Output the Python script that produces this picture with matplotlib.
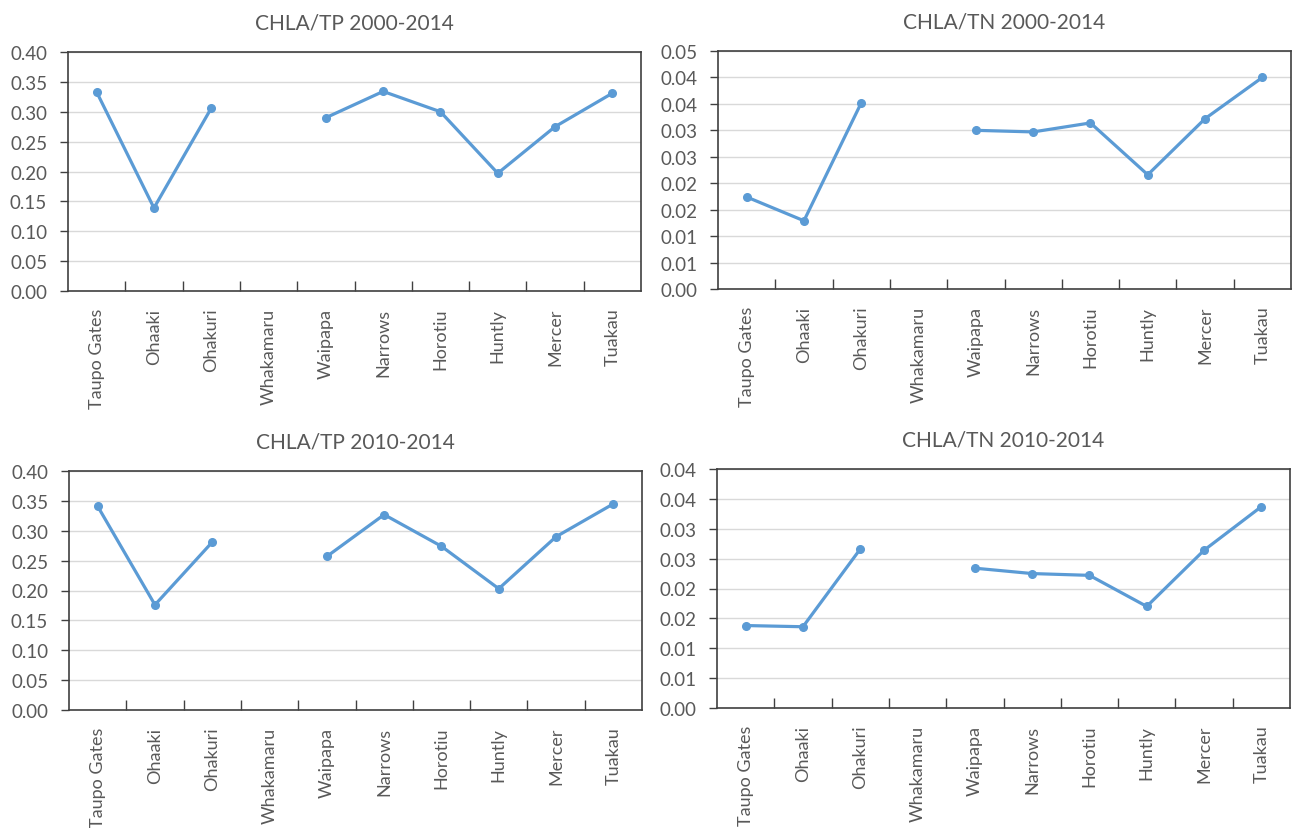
import matplotlib
matplotlib.use("Agg")
import matplotlib.pyplot as plt
import numpy as np
from decimal import Decimal, ROUND_HALF_UP
from matplotlib.ticker import FuncFormatter, FixedLocator

plt.rcParams['font.family'] = ['Lato', 'DejaVu Sans']

sites = ["Taupo Gates", "Ohaaki", "Ohakuri", "Whakamaru", "Waipapa",
         "Narrows", "Horotiu", "Huntly", "Mercer", "Tuakau"]

# Whakamaru has no ratio, left as a gap in the line
tp_2000 = [0.333, 0.139, 0.306, np.nan, 0.290, 0.334, 0.300, 0.197, 0.275, 0.331]
tn_2000 = [0.0174, 0.0129, 0.0352, np.nan, 0.0300, 0.0297, 0.0314, 0.0216, 0.0322, 0.0400]
tp_2010 = [0.341, 0.176, 0.281, np.nan, 0.257, 0.327, 0.274, 0.203, 0.290, 0.345]
tn_2010 = [0.0138, 0.0136, 0.0266, np.nan, 0.0234, 0.0225, 0.0222, 0.0170, 0.0264, 0.0337]

panels = [
    ("CHLA/TP 2000-2014", tp_2000, 0.40, 0.05, (68, 53, 641, 292)),
    ("CHLA/TN 2000-2014", tn_2000, 0.045, 0.005, (718, 52, 1291, 290)),
    ("CHLA/TP 2010-2014", tp_2010, 0.40, 0.05, (69, 472, 642, 711)),
    ("CHLA/TN 2010-2014", tn_2010, 0.04, 0.005, (717, 470, 1290, 709)),
]

W, H = 1301, 829
LINE = "#5B9BD5"
TEXT = "#595959"


def excel_fmt(v, pos):
    # two decimals, rounding halves upward like a spreadsheet
    d = Decimal(str(round(v, 6))).quantize(Decimal("0.01"), rounding=ROUND_HALF_UP)
    return f"{d:.2f}"


fig = plt.figure(figsize=(W / 100, H / 100), dpi=100)

for title, vals, ymax, step, (x0, y0, x1, y1) in panels:
    ax = fig.add_axes([x0 / W, 1 - y1 / H, (x1 - x0) / W, (y1 - y0) / H])
    x = np.arange(len(sites))
    ax.plot(x, vals, color=LINE, lw=2.3, marker="o", ms=5.5,
            solid_capstyle="round", zorder=3)

    ax.set_xlim(-0.5, len(sites) - 0.5)
    ax.set_ylim(0, ymax)
    yt = np.arange(0, ymax + step / 2, step)
    ax.set_yticks(yt)
    ax.yaxis.set_major_formatter(FuncFormatter(excel_fmt))
    ax.grid(axis="y", color="#D9D9D9", lw=1)
    ax.set_axisbelow(True)

    # category labels at the centres, tick marks on the boundaries
    ax.xaxis.set_major_locator(FixedLocator(np.arange(0.5, len(sites) - 1, 1)))
    ax.xaxis.set_minor_locator(FixedLocator(x))
    ax.set_xticklabels([])
    ax.set_xticklabels(sites, minor=True, rotation=90)
    ax.tick_params(axis="x", which="major", direction="in", length=7,
                   width=1, color="#404040")
    ax.tick_params(axis="x", which="minor", length=0, pad=12,
                   labelsize=13, labelcolor=TEXT)
    ax.tick_params(axis="y", direction="out", length=6, width=1,
                   color="#404040", labelsize=13.5, labelcolor=TEXT, pad=9)

    for s in ax.spines.values():
        s.set_color("#404040")
        s.set_linewidth(1.2)

    ax.set_title(title, fontsize=15, color=TEXT, pad=17)

fig.savefig("out.png", dpi=100, facecolor="white")
